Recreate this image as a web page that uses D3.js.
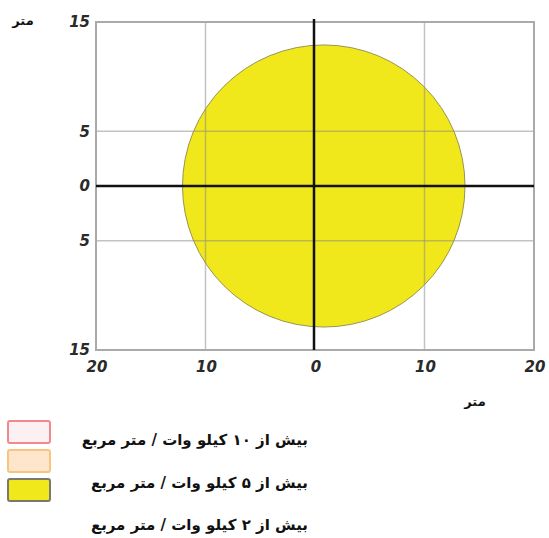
<!DOCTYPE html>
<html><head><meta charset="utf-8">
<script src="https://cdn.jsdelivr.net/npm/d3@7"></script>
<style>body{margin:0;background:#fff}svg{display:block}</style>
</head><body>
<script>
const xTicks = [-20, -10, 0, 10, 20];
const yTicks = [15, 5, 0, -5, -15];
const yGrid = [-5, 5];
const xGrid = [-10, 10];
const zone = [{cx: 0.8, cy: 0, r: 12.9}];
const unitLabel = "متر";
const legendLabels = ["بیش از ۱۰ کیلو وات / متر مربع", "بیش از ۵ کیلو وات / متر مربع", "بیش از ۲ کیلو وات / متر مربع"];
const legendFill = ["#fdf0f2", "#fde6cc", "#f0e81a"];
const legendStroke = ["#f08a8a", "#f8c47e", "#7a7a6a"];

const W = 549, H = 538;
const svg = d3.select("body").append("svg").attr("width", W).attr("height", H);
const x = d3.scaleLinear().domain([-20, 20]).range([96, 534]);
const y = d3.scaleLinear().domain([-15, 15]).range([350, 22]);

// zone circle
svg.selectAll("ellipse.zone").data(zone).enter().append("ellipse")
  .attr("cx", d => x(d.cx)).attr("cy", d => y(d.cy))
  .attr("rx", d => x(d.cx + d.r) - x(d.cx)).attr("ry", d => y(d.cy) - y(d.cy + d.r))
  .attr("fill", "#f0e81a").attr("stroke", "#9a9450").attr("stroke-width", 1);

// grid
svg.selectAll("line.gx").data(xGrid).enter().append("line")
  .attr("x1", d => x(d)).attr("x2", d => x(d)).attr("y1", y(15)).attr("y2", y(-15))
  .attr("stroke", "#888").attr("stroke-opacity", 0.5).attr("stroke-width", 1.5);
svg.selectAll("line.gy").data(yGrid).enter().append("line")
  .attr("y1", d => y(d)).attr("y2", d => y(d)).attr("x1", x(-20)).attr("x2", x(20))
  .attr("stroke", "#888").attr("stroke-opacity", 0.5).attr("stroke-width", 1.5);
// frame
svg.append("rect").attr("x", x(-20)).attr("y", y(15)).attr("width", x(20) - x(-20)).attr("height", y(-15) - y(15))
  .attr("fill", "none").attr("stroke", "#aaa").attr("stroke-width", 2);

// axes lines
svg.append("line").attr("x1", x(-20)).attr("x2", x(20)).attr("y1", y(0)).attr("y2", y(0))
  .attr("stroke", "#111").attr("stroke-width", 2.5);
svg.append("line").attr("x1", x(0) - 1).attr("x2", x(0) - 1).attr("y1", y(15) - 3).attr("y2", y(-15))
  .attr("stroke", "#111").attr("stroke-width", 2.5);

const tickFont = "DejaVu Sans, Verdana, sans-serif";
// y tick labels
svg.selectAll("text.yt").data(yTicks).enter().append("text")
  .attr("x", 90).attr("y", d => y(d)).attr("dy", "0.36em")
  .attr("text-anchor", "end").attr("font-family", tickFont).attr("font-weight", "bold").attr("font-style", "italic")
  .attr("font-size", 15).attr("fill", "#2a2a2a").text(d => Math.abs(d));
// x tick labels
svg.selectAll("text.xt").data(xTicks).enter().append("text")
  .attr("x", d => x(d) + 1).attr("y", 367).attr("dy", "0.36em")
  .attr("text-anchor", "middle").attr("font-family", tickFont).attr("font-weight", "bold").attr("font-style", "italic")
  .attr("font-size", 15).attr("fill", "#2a2a2a").text(d => Math.abs(d));

// unit labels
svg.append("text").attr("x", 23).attr("y", 20).attr("dy", "0.36em").attr("text-anchor", "middle")
  .attr("font-family", "DejaVu Sans, sans-serif").attr("font-weight", "bold").attr("font-size", 13).attr("fill", "#111").text(unitLabel);
svg.append("text").attr("x", 475).attr("y", 401).attr("dy", "0.36em").attr("text-anchor", "middle")
  .attr("font-family", "DejaVu Sans, sans-serif").attr("font-weight", "bold").attr("font-size", 13).attr("fill", "#111").text(unitLabel);

// legend
const sw = d3.range(3);
svg.selectAll("rect.lg").data(sw).enter().append("rect")
  .attr("x", 8).attr("y", i => 421 + i * 29).attr("width", 42).attr("height", 22).attr("rx", 2)
  .attr("fill", i => legendFill[i]).attr("stroke", i => legendStroke[i]).attr("stroke-width", 2);
svg.selectAll("text.lg").data(legendLabels).enter().append("text")
  .attr("x", 308).attr("y", (d, i) => [440, 483, 525][i]).attr("dy", "0.36em")
  .attr("direction", "rtl").attr("text-anchor", "start")
  .attr("font-family", "DejaVu Sans, sans-serif").attr("font-weight", "bold").attr("font-size", 15).attr("fill", "#111").text(d => d);
</script>
</body></html>
